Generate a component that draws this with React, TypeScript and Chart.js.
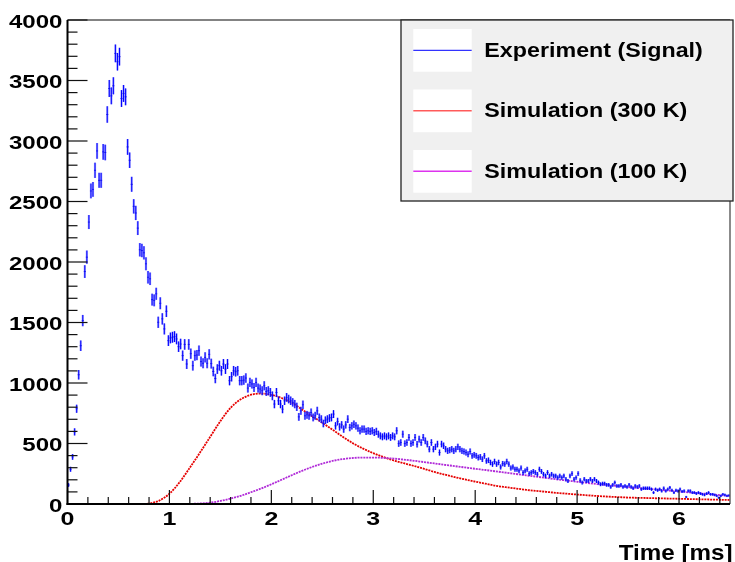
import React, { useEffect, useRef } from "react";
import { Chart, registerables } from "chart.js";

Chart.register(...registerables);

// ---------------- data ----------------
const BIN_WIDTH = 0.02; // ms, histogram bin width

// Experiment (Signal): counts per 0.02 ms bin, first bin centred at 0.01 ms
const signalCounts: number[] = [
  157, 287, 389, 596, 787, 1068, 1308, 1516, 1921, 2040,
  2330, 2587, 2600, 2758, 2918, 2675, 2675, 2910, 2905, 3219,
  3434, 3373, 3456, 3724, 3655, 3697, 3351, 3393, 3365, 2951,
  2841, 2642, 2460, 2405, 2280, 2101, 2095, 2076, 1985, 1874,
  1861, 1689, 1683, 1737, 1502, 1659, 1530, 1447, 1593, 1350,
  1372, 1378, 1383, 1364, 1300, 1322, 1226, 1319, 1157, 1319,
  1242, 1143, 1226, 1231, 1267, 1177, 1163, 1212, 1163, 1237,
  1160, 1095, 1037, 1115,
  1143, 1101, 1157, 1115, 1157, 1019, 1052, 1101, 1093, 1101,
  1019, 1019, 1024, 1041, 958, 1005, 992, 963, 1005, 958,
  950, 936, 977, 930, 936, 922, 894, 826, 922, 853,
  826, 784, 853, 881, 867, 853, 840, 826, 803, 720,
  770, 820, 729, 737, 729, 756, 715, 729, 770, 715,
  701, 665, 692, 701, 710, 715, 743, 646, 681, 637,
  654, 619, 654, 701, 632, 646, 659, 646, 627, 605,
  619, 619, 600, 605, 600, 605, 591, 600, 577, 563,
  555, 563, 555, 563, 550, 563, 555, 605, 499, 508,
  577, 499, 508, 550, 499, 508, 550, 494,
  536, 508, 550, 522, 495, 453, 508, 453, 472, 495,
  425, 495, 481, 453, 439, 445, 453, 439, 453, 472,
  453, 439, 434, 425, 411, 434, 398, 406, 398, 384,
  389, 370, 398, 356, 361, 343, 329, 351, 329, 343,
  306, 334, 329, 351, 329, 297, 306, 287, 287, 274,
  297, 260, 274, 287, 251, 260, 269, 260, 246, 287,
  269, 246, 232, 260, 232, 246, 232, 232, 218, 232,
  218, 232, 205, 190, 232, 251, 205, 218, 251, 196,
  177, 205, 190, 190, 205, 190, 205, 190, 177, 163,
  168, 168, 158, 158, 141, 158, 177, 149, 149, 158,
  141, 149, 141, 158, 141, 130, 149, 141, 149, 122,
  130, 130, 130, 130, 122, 94, 122, 113, 122, 108,
  130, 108, 122, 135, 113, 94, 113, 108, 122, 103,
  108, 58, 108, 108, 94, 94, 86, 94, 86, 80,
  75, 86, 94, 80, 80, 75, 67, 52, 67, 80,
  75, 67, 70,
];
const binCenters: number[] = signalCounts.map((_, i) => (i + 0.5) * BIN_WIDTH);

// Simulation curves sampled every 0.1 ms from 0.5 ms to 6.5 ms
const simTime: number[] = [
  0.5, 0.6, 0.7, 0.8, 0.9, 1.0, 1.1, 1.2, 1.3, 1.4,
  1.5, 1.6, 1.7, 1.8, 1.9, 2.0, 2.1, 2.2, 2.3, 2.4,
  2.5, 2.6, 2.7, 2.8, 2.9, 3.0, 3.1, 3.2, 3.3, 3.4,
  3.5, 3.6, 3.7, 3.8, 3.9, 4.0, 4.1, 4.2, 4.3, 4.4,
  4.5, 4.6, 4.7, 4.8, 4.9, 5.0, 5.1, 5.2, 5.3, 5.4,
  5.5, 5.6, 5.7, 5.8, 5.9, 6.0, 6.1, 6.2, 6.3, 6.4,
  6.5,
];
const sim300K: (number | null)[] = [
  0, 0, 0, 4, 28, 85, 180, 300, 425, 555,
  685, 795, 865, 903, 913, 902, 876, 838, 782, 726,
  671, 614, 556, 502, 458, 420, 388, 360, 337, 315,
  290, 265, 243, 222, 203, 185, 168, 151, 139, 128,
  117, 108, 100, 92, 85, 78, 72, 66, 61, 57,
  53, 51, 49, 47, 45, 43, 41, 39, 37, 35,
  33,
];
const sim100K: (number | null)[] = [
  null, null, null, null, 0, 0, 0, 1, 4, 11,
  25, 45, 68, 97, 128, 163, 200, 238, 274, 306,
  334, 356, 371, 380, 384, 384, 381, 375, 367, 357,
  346, 335, 324, 313, 302, 291, 281, 270, 259, 248,
  237, 226, 215, 204, 194, 184, 174, 164, 156, 148,
  140, 132, 125, 118, 111, 104, 96, 89, 81, 74,
  66,
];

const xTickLabels: number[] = [0, 1, 2, 3, 4, 5, 6];
const yTickLabels: number[] = [0, 500, 1000, 1500, 2000, 2500, 3000, 3500, 4000];
const legendLabels: string[] = ["Experiment (Signal)", "Simulation (300 K)", "Simulation (100 K)"];
const xAxisTitle = "Time [ms]";

// ---------------- style ----------------
const BLUE = "#0000ff";
const RED = "#e60000";
const PURPLE = "#b02ad8";
const FONT = '"Liberation Sans", Arial, Helvetica, sans-serif';

function seg(ctx: CanvasRenderingContext2D, x1: number, y1: number, x2: number, y2: number) {
  ctx.beginPath();
  ctx.moveTo(x1, y1);
  ctx.lineTo(x2, y2);
  ctx.stroke();
}

function stretchedText(
  ctx: CanvasRenderingContext2D,
  text: string,
  x: number,
  y: number,
  align: CanvasTextAlign,
  sx: number
) {
  ctx.save();
  ctx.translate(x, y);
  ctx.scale(sx, 1);
  ctx.textAlign = align;
  ctx.textBaseline = "alphabetic";
  ctx.fillText(text, 0, 0);
  ctx.restore();
}

const rootStylePlugin = {
  id: "rootStyle",
  afterDatasetsDraw(chart: any) {
    const { ctx, chartArea } = chart;
    const xs = chart.scales.x;
    const ys = chart.scales.y;
    ctx.save();
    ctx.beginPath();
    ctx.rect(chartArea.left, chartArea.top, chartArea.right - chartArea.left, chartArea.bottom - chartArea.top);
    ctx.clip();
    signalCounts.forEach((v, i) => {
      const px = xs.getPixelForValue(binCenters[i]);
      const err = Math.sqrt(v) * 1.2;
      const yTop = ys.getPixelForValue(v + err);
      const yBot = ys.getPixelForValue(Math.max(0, v - err));
      ctx.lineCap = "butt";
      ctx.strokeStyle = "rgba(80,80,255,0.55)";
      ctx.lineWidth = 2.2;
      seg(ctx, px, yTop, px, yBot);
      ctx.strokeStyle = BLUE;
      ctx.lineWidth = 1;
      seg(ctx, px, yTop, px, yBot);
    });
    ctx.restore();
  },
  afterDraw(chart: any) {
    const { ctx, chartArea } = chart;
    const xs = chart.scales.x;
    const ys = chart.scales.y;
    const L = chartArea.left;
    const R = chartArea.right;
    const T = chartArea.top;
    const B = chartArea.bottom;
    ctx.save();

    // frame (top / right)
    ctx.strokeStyle = "#5a5a5a";
    ctx.lineWidth = 1.4;
    seg(ctx, L, T, R, T);
    seg(ctx, R, T, R, B);

    // y ticks (inward)
    ctx.strokeStyle = "#111";
    ctx.lineWidth = 1.2;
    for (let v = 0; v <= 4000; v += 100) {
      const y = ys.getPixelForValue(v);
      const len = v % 500 === 0 ? 20 : 10;
      seg(ctx, L, y, L + len, y);
    }
    // x ticks (inward)
    for (let k = 0; k <= 32; k++) {
      const x = xs.getPixelForValue(k * 0.2);
      const len = k % 5 === 0 ? 14 : 7;
      seg(ctx, x, B, x, B - len);
    }

    // axis lines
    ctx.strokeStyle = "#000";
    ctx.lineWidth = 2;
    seg(ctx, L, T, L, B + 1);
    seg(ctx, L - 1, B, R, B);

    // tick labels
    ctx.fillStyle = "#000";
    ctx.font = `bold 18.5px ${FONT}`;
    yTickLabels.forEach((v) => {
      const y = ys.getPixelForValue(v);
      stretchedText(ctx, String(v), L - 5, y + 7.5, "right", 1.3);
    });
    xTickLabels.forEach((v) => {
      const x = xs.getPixelForValue(v);
      stretchedText(ctx, String(v), x, 525, "center", 1.35);
    });

    // axis title
    ctx.font = `bold 22px ${FONT}`;
    stretchedText(ctx, xAxisTitle, 732.5, 559.5, "right", 1.1);

    // legend
    const lx = 401;
    const ly = 20;
    const lw = 332;
    const lh = 181;
    ctx.fillStyle = "#f0f0f0";
    ctx.fillRect(lx, ly, lw, lh);
    ctx.strokeStyle = "#222";
    ctx.lineWidth = 1.3;
    ctx.strokeRect(lx, ly, lw, lh);
    const colors = [BLUE, "#ff5a5a", "#dd33ee"];
    legendLabels.forEach((label, k) => {
      const by = 29 + k * 60.5;
      ctx.fillStyle = "#ffffff";
      ctx.fillRect(413.3, by, 58.4, 42.7);
      ctx.strokeStyle = colors[k];
      ctx.lineWidth = k === 0 ? 1 : 1.4;
      seg(ctx, 413.3, by + 21.3, 471.7, by + 21.3);
      ctx.fillStyle = "#000";
      ctx.font = `bold 20.6px ${FONT}`;
      stretchedText(ctx, label, 484.3, by + 27.7, "left", 1.13);
    });

    ctx.restore();
  },
};

export default function App() {
  const canvasRef = useRef<HTMLCanvasElement | null>(null);

  useEffect(() => {
    const canvas = canvasRef.current;
    if (!canvas) return;
    const chart = new Chart(canvas, {
      type: "line",
      data: {
        datasets: [
          {
            label: legendLabels[1],
            data: simTime.map((t, i) => ({ x: t, y: sim300K[i] })),
            borderColor: RED,
            borderWidth: 1.8,
            borderDash: [2, 0.9],
            pointRadius: 0,
            cubicInterpolationMode: "monotone",
            fill: false,
            order: 3,
          },
          {
            label: legendLabels[2],
            data: simTime.map((t, i) => ({ x: t, y: sim100K[i] })),
            borderColor: PURPLE,
            borderWidth: 1.8,
            borderDash: [2, 0.9],
            pointRadius: 0,
            cubicInterpolationMode: "monotone",
            fill: false,
            order: 2,
          },
          {
            label: legendLabels[0],
            data: binCenters.map((t, i) => ({ x: t, y: signalCounts[i] })),
            showLine: false,
            pointStyle: "line",
            pointRadius: 1,
            pointBorderColor: "#0000c0",
            pointBorderWidth: 1,
            pointBackgroundColor: BLUE,
            order: 1,
          },
        ],
      },
      options: {
        animation: false,
        responsive: false,
        devicePixelRatio: 1,
        events: [],
        layout: { padding: { left: 67.5, right: 1.5, top: 20, bottom: 58 } },
        scales: {
          x: { type: "linear", min: 0, max: 6.5, display: false },
          y: { type: "linear", min: 0, max: 4000, display: false },
        },
        plugins: {
          legend: { display: false },
          tooltip: { enabled: false },
          title: { display: false },
        },
      },
      plugins: [rootStylePlugin],
    });
    return () => chart.destroy();
  }, []);

  return (
    <div style={{ position: "absolute", left: 0, top: 0, width: 735, height: 562, background: "#ffffff" }}>
      <canvas ref={canvasRef} width={735} height={562} />
    </div>
  );
}
